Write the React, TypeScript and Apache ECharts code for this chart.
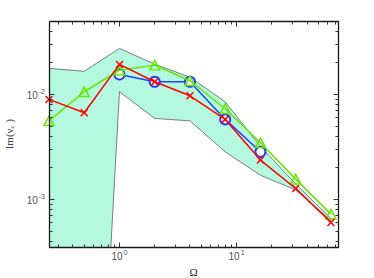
import React, { useEffect, useRef } from 'react';
import * as echarts from 'echarts';

const omega = [0.25, 0.5, 1, 2, 4, 8, 16, 32, 64];
const bandUpper = [0.0177, 0.0166, 0.0274, 0.0194, 0.0146, 0.0085, 0.0032, 0.0014, 0.00066];
const bandLower = [1e-8, 1e-8, 0.0106, 0.0059, 0.0056, 0.00284, 0.0017, 0.00123, 0.00063];
const redValues = [0.00896, 0.00668, 0.0193, 0.0132, 0.0097, 0.00578, 0.00237, 0.00127, 0.000604];
const blueOmega = [1, 2, 4, 8, 16];
const blueValues = [0.0155, 0.0132, 0.0132, 0.00578, 0.00284];
const greenValues = [0.0056, 0.0106, 0.017, 0.019, 0.0135, 0.0073, 0.00346, 0.00156, 0.000724];
const xMajor = [1, 10];
const xMinor = [0.3, 0.4, 0.5, 0.6, 0.7, 0.8, 0.9, 2, 3, 4, 5, 6, 7, 8, 9, 20, 30, 40, 50, 60, 70];
const yMajor = [0.001, 0.01];
const yMinor = [0.0004, 0.0005, 0.0006, 0.0007, 0.0008, 0.0009, 0.002, 0.003, 0.004, 0.005, 0.006, 0.007, 0.008, 0.009, 0.02, 0.03, 0.04];
const X_MIN = 0.25, X_MAX = 74, Y_MIN = 0.00035, Y_MAX = 0.05;

const GRID = { left: 49, top: 21, width: 289.3, height: 226.3 };

const pow10Label = (v: number) => {
  const e = Math.log10(v);
  if (Math.abs(e - Math.round(e)) > 1e-6) return '';
  return `{b|10}{s|${Math.round(e)}}`;
};

const labelRich = {
  b: { fontSize: 10, fontFamily: 'Liberation Sans', color: '#555', lineHeight: 12, verticalAlign: 'bottom' },
  s: { fontSize: 7, fontFamily: 'Liberation Sans', color: '#555', lineHeight: 7, verticalAlign: 'top', padding: [0, 0, 0, 1] },
};

const snap = (v: number) => Math.floor(v) + 0.5;

export default function App() {
  const ref = useRef<HTMLDivElement>(null);
  useEffect(() => {
    document.body.style.margin = '0';
    const chart = echarts.init(ref.current!, undefined, { renderer: 'svg' });
    const pair = (xs: number[], ys: number[]) => xs.map((x, i) => [x, ys[i]]);
    chart.setOption({
      animation: false,
      backgroundColor: '#fff',
      grid: { ...GRID, show: false, outerBoundsMode: 'none' },
      xAxis: {
        type: 'log', logBase: 10, min: X_MIN, max: X_MAX,
        axisLine: { show: false }, axisTick: { show: false }, splitLine: { show: false },
        axisLabel: { formatter: pow10Label, rich: labelRich, margin: 2, showMinLabel: false, showMaxLabel: false },
        name: 'Ω', nameLocation: 'middle', nameGap: 13,
        nameTextStyle: { fontFamily: 'Liberation Serif', fontSize: 11, color: '#222' },
      },
      yAxis: {
        type: 'log', logBase: 10, min: Y_MIN, max: Y_MAX,
        axisLine: { show: false }, axisTick: { show: false }, splitLine: { show: false },
        axisLabel: { formatter: pow10Label, rich: labelRich, margin: 4, showMinLabel: false, showMaxLabel: false },
        name: '{n|Im(ν}{c|c}{n| )}', nameLocation: 'middle', nameGap: 30, nameRotate: 90,
        nameTextStyle: {
          rich: {
            n: { fontFamily: 'Liberation Serif', fontSize: 11, color: '#444', lineHeight: 12, verticalAlign: 'top' },
            c: { fontFamily: 'Liberation Serif', fontSize: 7, color: '#444', lineHeight: 12, verticalAlign: 'bottom', padding: [6, 0, 0, 0] },
          },
        },
      },
      series: [
        {
          type: 'custom', clip: true, silent: true, z: 1,
          data: [[1, 0.01]],
          renderItem: (_p: any, api: any) => {
            const pts: number[][] = [];
            omega.forEach((x, i) => pts.push(api.coord([x, bandUpper[i]])));
            for (let i = omega.length - 1; i >= 0; i--) pts.push(api.coord([omega[i], bandLower[i]]));
            return { type: 'polygon', shape: { points: pts }, style: { fill: '#b4f8e0', stroke: '#606060', lineWidth: 0.8 } };
          },
        },
        {
          type: 'line', z: 3, data: pair(blueOmega, blueValues),
          lineStyle: { color: '#2040ff', width: 1.5 },
          symbol: 'emptyCircle', symbolSize: 10,
          itemStyle: { color: '#2040ff', borderColor: '#2040ff', borderWidth: 1.5 },
        },
        {
          type: 'line', z: 4, data: pair(omega, greenValues),
          lineStyle: { color: '#66e600', width: 1.5 },
          symbol: 'path://M5,0L10,9L0,9Z', symbolSize: [10, 9.5], symbolKeepAspect: false,
          itemStyle: { color: 'rgba(0,0,0,0)', borderColor: '#66e600', borderWidth: 1.5 },
        },
        {
          type: 'line', z: 5, data: pair(omega, redValues),
          lineStyle: { color: '#ff0000', width: 1.5 },
          symbol: 'path://M0,0L10,10M10,0L0,10', symbolSize: 7,
          itemStyle: { color: '#ff0000', borderColor: '#ff0000', borderWidth: 1.5 },
        },
        {
          type: 'custom', clip: false, silent: true, z: 10,
          data: [[1, 0.01]],
          renderItem: (params: any, api: any) => {
            const cs = params.coordSys;
            const left = snap(cs.x), top = snap(cs.y), right = snap(cs.x + cs.width), bottom = snap(cs.y + cs.height);
            const mk = (x1: number, y1: number, x2: number, y2: number, color = '#333', w = 1) => ({
              type: 'line', shape: { x1, y1, x2, y2 }, style: { stroke: color, lineWidth: w },
            });
            const children: any[] = [
              { type: 'polyline', shape: { points: [[left, top], [right, top], [right, bottom], [left, bottom], [left, top]] }, style: { stroke: '#1a1a1a', lineWidth: 1.3, fill: null } },
            ];
            const addX = (v: number, len: number) => {
              const px = snap(api.coord([v, Y_MIN])[0]);
              children.push(mk(px, bottom, px, bottom - len));
              children.push(mk(px, top, px, top + len));
            };
            const addY = (v: number, len: number) => {
              const py = snap(api.coord([X_MIN, v])[1]);
              children.push(mk(left, py, left + len, py));
              children.push(mk(right, py, right - len, py));
            };
            xMajor.forEach((v) => addX(v, 5));
            xMinor.forEach((v) => addX(v, 3));
            yMajor.forEach((v) => addY(v, 5));
            yMinor.forEach((v) => addY(v, 3));
            return { type: 'group', children };
          },
        },
      ],
    });
    return () => chart.dispose();
  }, []);
  return <div ref={ref} style={{ width: 374, height: 278 }} />;
}
